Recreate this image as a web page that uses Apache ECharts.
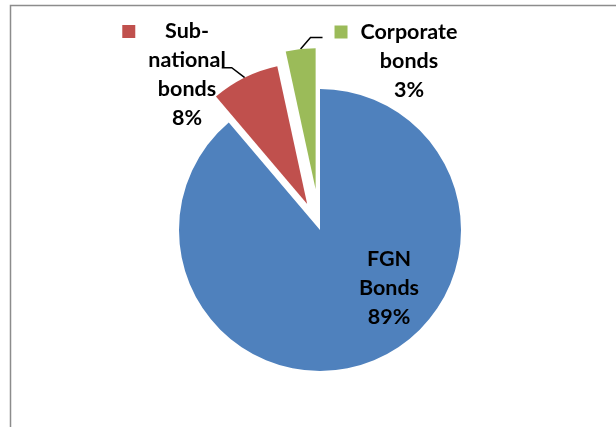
<!DOCTYPE html>
<html><head><meta charset="utf-8">
<script src="https://cdn.jsdelivr.net/npm/echarts@6/dist/echarts.min.js"></script>
<style>html,body{margin:0;padding:0;background:#fff}#c{width:616px;height:427px}</style>
</head><body><div id="c"></div>
<script>
// Data
const categories = ['FGN Bonds', 'Sub-national bonds', 'Corporate bonds'];
const shares = [88.8, 7.8, 3.4];

// Styles
const colors = ['#4F81BD', '#C0504D', '#9BBB59'];
const explode = [0, 29, 41];           // px each slice is pulled out
const keyStyle = ['', 'kr', 'kg'];
const FONT = 'Lato';
const FS = 21.5;
const LH = 29;
const CX = 320, CY = 230, R = 141;

function splitName(name) {
  return name.replace(/-/g, '-\n').replace(/ /g, '\n').split('\n');
}
function labelText(p) {
  const lines = splitName(p.name).concat([Math.round(p.percent) + '%']);
  const k = keyStyle[p.dataIndex];
  if (!k) return lines.map(l => '{t|' + l + '}').join('\n');
  return lines.map((l, i) => (i === 0 ? '{' + k + '|}{g|}' : '{p|}') + '{t|' + l + '}').join('\n');
}
const rich = {
  t: {fontFamily: FONT, fontWeight: 'bold', fontSize: FS, lineHeight: LH, color: '#000', align: 'center'},
  kr: {width: 13, height: 13, backgroundColor: colors[1], align: 'left', lineHeight: LH},
  kg: {width: 13, height: 13, backgroundColor: colors[2], align: 'left', lineHeight: LH},
  g: {width: 13, align: 'left', lineHeight: LH},
  p: {width: 26, align: 'left', lineHeight: LH}
};
// wanted centre of each label box
const labelPos = [[389, 288], [174, 75], [396, 61]];

const total = shares.reduce((a, b) => a + b, 0);
function midAngle(i) {
  let before = 0;
  for (let j = 0; j < i; j++) before += shares[j];
  return (before + shares[i] / 2) / total * 2 * Math.PI; // clockwise from 12 o'clock
}
function sliceCenter(i) {
  const th = midAngle(i);
  return [CX + Math.sin(th) * explode[i], CY - Math.cos(th) * explode[i]];
}

function makeSeries(vi) {
  const sc = sliceCenter(vi);
  return {
    type: 'pie',
    center: sc,
    radius: R,
    startAngle: 90,
    clockwise: true,
    avoidLabelOverlap: false,
    emphasis: {disabled: true},
    silent: true,
    animation: false,
    label: {
      show: true, position: 'outside', formatter: labelText, rich: rich,
      fontFamily: FONT, fontWeight: 'bold', fontSize: FS, lineHeight: LH, color: '#000'
    },
    labelLine: {show: true, length: 8, length2: 10, smooth: false, lineStyle: {color: '#000', width: 1.5}},
    labelLayout: function (p) {
      const c = labelPos[p.dataIndex];
      const out = {x: c[0], y: c[1], align: 'center', verticalAlign: 'middle'};
      if (p.dataIndex > 0) {
        const th = midAngle(p.dataIndex);
        const a = [sc[0] + Math.sin(th) * R, sc[1] - Math.cos(th) * R]; // arc midpoint
        const w = p.labelRect.width, h = p.labelRect.height;
        const left = c[0] - w / 2, top = c[1] - h / 2;
        let end, elbow;
        if (c[0] < a[0]) { end = [left + w - 4, top + 1.75 * LH]; elbow = [end[0] + 10, end[1]]; }
        else { end = [left - 12, top + 20]; elbow = [end[0] - 12, end[1]]; }
        out.labelLinePoints = [a, elbow, end];
      }
      return out;
    },
    data: categories.map((name, i) => {
      const vis = i === vi;
      const item = {
        name: name, value: shares[i],
        itemStyle: {color: colors[i], opacity: vis ? 1 : 0, borderWidth: 0}
      };
      if (!vis) { item.label = {show: false}; item.labelLine = {show: false}; }
      else if (i === 0) { item.label = {position: 'inside'}; item.labelLine = {show: false}; }
      return item;
    })
  };
}

const chart = echarts.init(document.getElementById('c'), null, {renderer: 'canvas'});
chart.setOption({
  backgroundColor: '#fff',
  animation: false,
  graphic: [{
    type: 'rect', silent: true,
    shape: {x: 10.5, y: 5.5, width: 700, height: 500},
    style: {fill: 'none', stroke: '#8c8c8c', lineWidth: 1.5}
  }],
  series: [makeSeries(0), makeSeries(1), makeSeries(2)]
});
</script>
</body></html>
